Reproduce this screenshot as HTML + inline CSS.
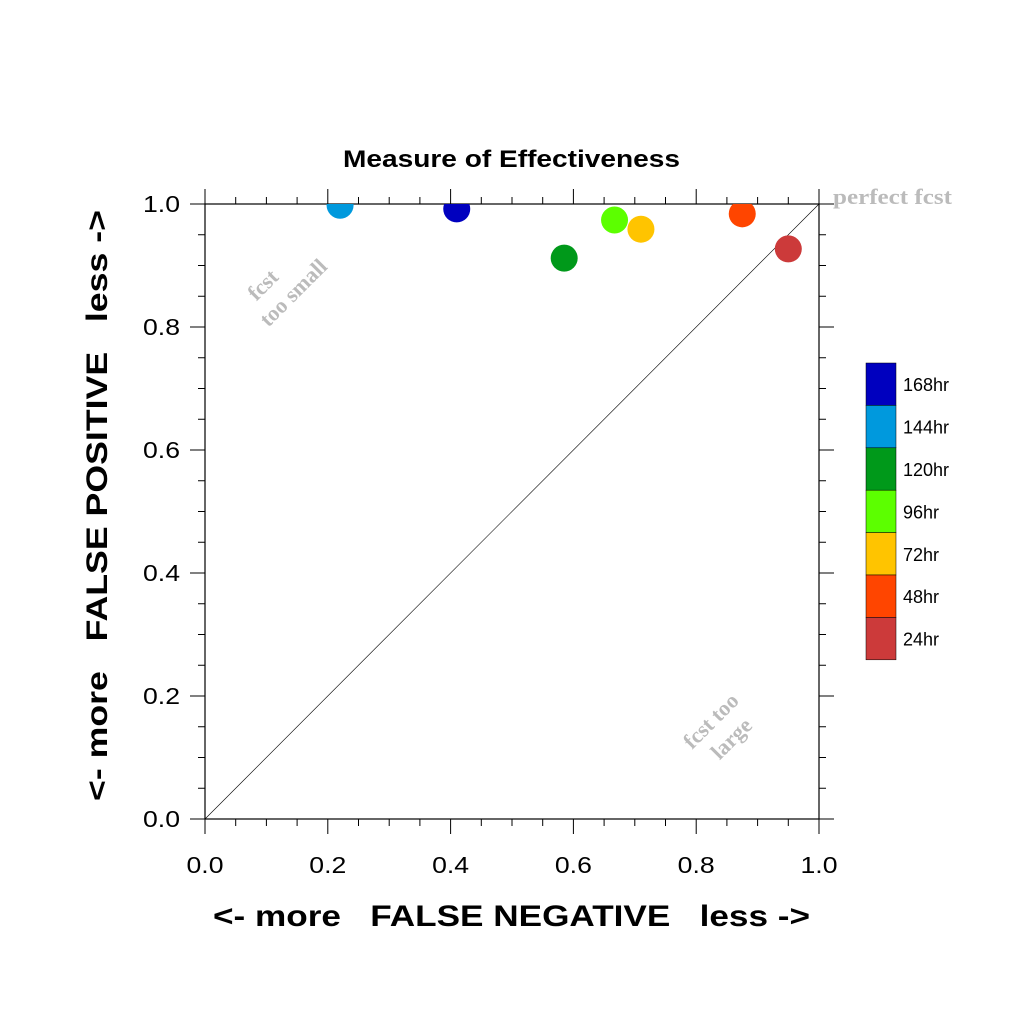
<!DOCTYPE html>
<html><head><meta charset="utf-8"><style>body{margin:0;background:#fff}svg{display:block}</style></head>
<body>
<svg id="c" width="1024" height="1024" xmlns="http://www.w3.org/2000/svg" font-family="Liberation Sans, sans-serif">
<defs><clipPath id="pc"><rect x="205" y="204" width="614" height="615"/></clipPath></defs>
<text x="343" y="167" textLength="337" lengthAdjust="spacingAndGlyphs" font-size="24" font-weight="bold">Measure of Effectiveness</text>
<g id="axes"></g>
<g id="marks" clip-path="url(#pc)"></g>
<g id="legend"></g>
<text x="213" y="926" textLength="597" lengthAdjust="spacingAndGlyphs" font-size="30" font-weight="bold" xml:space="preserve">&lt;- more   FALSE NEGATIVE   less -&gt;</text>
<text transform="translate(107,801) rotate(-90)" textLength="591" lengthAdjust="spacingAndGlyphs" font-size="30" font-weight="bold" xml:space="preserve">&lt;- more   FALSE POSITIVE   less -&gt;</text>
<text x="833" y="204" textLength="119" lengthAdjust="spacingAndGlyphs" font-family="Liberation Serif, serif" font-weight="bold" font-size="22" fill="#bbb">perfect fcst</text>
<text transform="translate(268,290) rotate(-45)" font-family="Liberation Serif, serif" font-weight="bold" font-size="22" fill="#bbb" text-anchor="middle"><tspan x="0" y="0">fcst</tspan><tspan x="16" y="27">too small</tspan></text>
<text transform="translate(716,726) rotate(-45)" font-family="Liberation Serif, serif" font-weight="bold" font-size="22" fill="#bbb" text-anchor="middle"><tspan x="0" y="0">fcst too</tspan><tspan x="2" y="27">large</tspan></text>
</svg>
<script>
const labels=["168hr","144hr","120hr","96hr","72hr","48hr","24hr"];
const colors=["#0000bf","#0099dd","#00991a","#5cff00","#ffc400","#ff4500","#cc3a3a"];
const fnValues=[0.41,0.22,0.585,0.667,0.71,0.875,0.95];
const fpValues=[0.992,0.998,0.912,0.974,0.959,0.984,0.927];
const tickLabels=["0.0","0.2","0.4","0.6","0.8","1.0"];
const NS="http://www.w3.org/2000/svg";
const X0=205,X1=819,Y0=819,Y1=204;
const sx=v=>X0+v*(X1-X0), sy=v=>Y0-v*(Y0-Y1);
function mk(p,t,a){const e=document.createElementNS(NS,t);for(const k in a)e.setAttribute(k,a[k]);p.appendChild(e);return e;}
const ax=document.getElementById('axes');
const fr=mk(ax,'rect',{x:X0,y:Y1,width:X1-X0,height:Y0-Y1,fill:'none',stroke:'#000','stroke-width':1.2});


const dg=mk(ax,'line',{x1:sx(0),y1:sy(0),x2:sx(1),y2:sy(1),stroke:'#000','stroke-width':0.6});


for(let i=0;i<=20;i++){const v=i/20,maj=i%4===0,L=maj?15:7;
 mk(ax,'line',{x1:sx(v),y1:Y0,x2:sx(v),y2:Y0+L,stroke:'#000','stroke-width':1});
 mk(ax,'line',{x1:sx(v),y1:Y1,x2:sx(v),y2:Y1-L,stroke:'#000','stroke-width':1});
 mk(ax,'line',{x1:X0,y1:sy(v),x2:X0-L,y2:sy(v),stroke:'#000','stroke-width':1});
 mk(ax,'line',{x1:X1,y1:sy(v),x2:X1+L,y2:sy(v),stroke:'#000','stroke-width':1});}
tickLabels.forEach((t,i)=>{const v=i/5;
 const a=mk(ax,'text',{x:sx(v),y:Y0+54,'text-anchor':'middle','font-size':23,textLength:37,lengthAdjust:'spacingAndGlyphs'});a.textContent=t;
 
 
 const b=mk(ax,'text',{x:X0-62,y:sy(v)+8,'font-size':23,textLength:37,lengthAdjust:'spacingAndGlyphs'});b.textContent=t;
 
 });
const mg=document.getElementById('marks');
fnValues.forEach((v,i)=>{const c=mk(mg,'circle',{cx:sx(v),cy:sy(fpValues[i]),r:13.5,fill:colors[i]});
 
 });
const lg=document.getElementById('legend');
const LY=363,LH=42.4;
labels.forEach((l,i)=>{const r=mk(lg,'rect',{x:866,y:LY+i*LH,width:30,height:LH,fill:colors[i],stroke:'#000','stroke-width':0.5});
 
 
 const t=mk(lg,'text',{x:903,y:LY+i*LH+LH/2+7,'font-size':18});t.textContent=l;
 
 });
</script>
</body></html>
